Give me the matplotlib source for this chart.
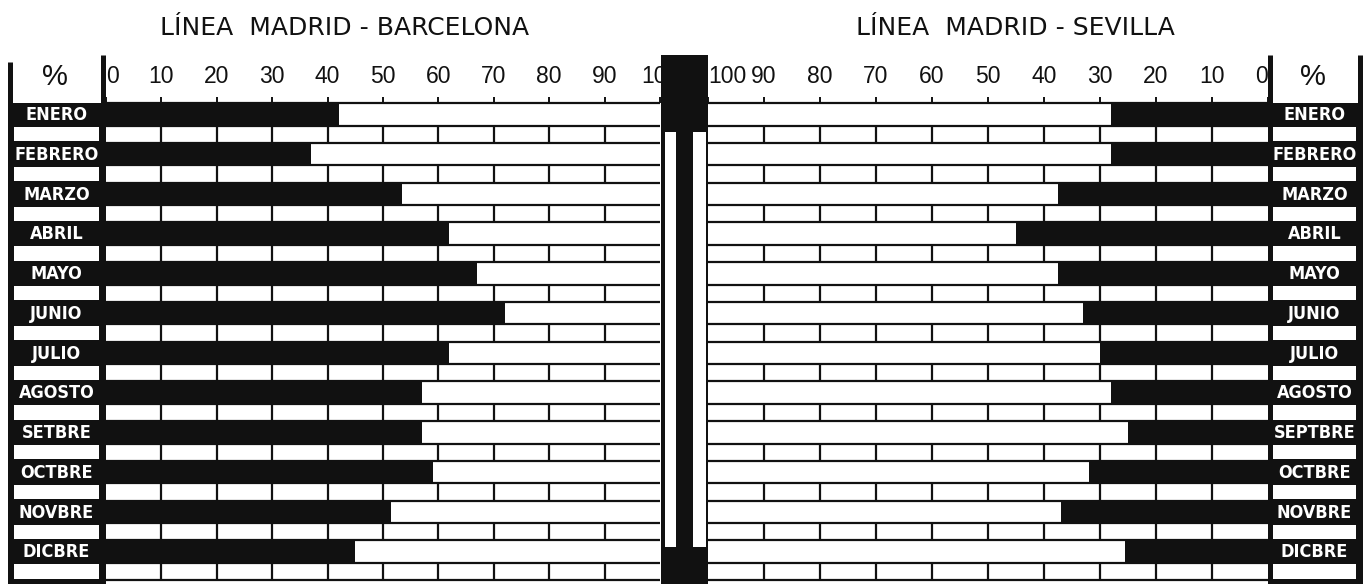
import numpy as np
import matplotlib
matplotlib.use("Agg")
import matplotlib.pyplot as plt
from matplotlib import font_manager
from matplotlib.font_manager import FontProperties
from matplotlib.patches import Rectangle

# data (% per month)
meses_bcn = ["ENERO", "FEBRERO", "MARZO", "ABRIL", "MAYO", "JUNIO",
             "JULIO", "AGOSTO", "SETBRE", "OCTBRE", "NOVBRE", "DICBRE"]
meses_sev = ["ENERO", "FEBRERO", "MARZO", "ABRIL", "MAYO", "JUNIO",
             "JULIO", "AGOSTO", "SEPTBRE", "OCTBRE", "NOVBRE", "DICBRE"]
pct_bcn = [42, 37, 53.5, 62, 67, 72, 62, 57, 57, 59, 51.5, 45]
pct_sev = [28, 28, 37.5, 45, 37.5, 33, 30, 28, 25, 32, 37, 25.5]
ticks = list(range(0, 101, 10))
titulo_bcn = "LÍNEA  MADRID - BARCELONA"
titulo_sev = "LÍNEA  MADRID - SEVILLA"

INK = "#111111"
plt.rcParams["font.family"] = ["Liberation Sans", "DejaVu Sans"]

# look for a condensed bold face for the month stamps
cond = [f for f in font_manager.fontManager.ttflist
        if ("Narrow" in f.name or "Condensed" in f.name
            or "condensed" in str(f.stretch)) and f.weight in (600, 700, "bold")]
if cond:
    month_fp = FontProperties(fname=cond[0].fname, size=13)
else:
    month_fp = FontProperties(family="DejaVu Sans", weight="bold", size=10.5)

W, H = 1365, 584
Y_TOP, Y_BOT = 103, 580
unit = (Y_BOT - Y_TOP) / 12.0
y_hi = (55 - Y_TOP) / unit
y_lo = (584 - Y_TOP) / unit
BAR = 0.57


def box(x0, y0, x1, y1):
    return [x0 / W, 1 - y1 / H, (x1 - x0) / W, (y1 - y0) / H]


fig = plt.figure(figsize=(13.65, 5.84), dpi=100)
fig.patch.set_facecolor("white")


def panel(rect, vals, xlim, line_x):
    ax = fig.add_axes(rect)
    ax.set_xlim(*xlim)
    ax.set_ylim(12, 0)
    rows = np.arange(12)
    ax.barh(rows + BAR / 2, vals, height=BAR, left=0, color=INK, zorder=2)
    ax.hlines(np.r_[rows, rows + BAR, 12], 0, 100, color=INK, lw=1.6,
              zorder=3, clip_on=False)
    for r in rows:
        ax.vlines(ticks[1:-1], r + BAR, r + 1, color=INK, lw=1.6, zorder=3)
    for s in ax.spines.values():
        s.set_visible(False)
    ax.set_yticks([])
    ax.set_xticks(ticks, labels=[str(t) for t in ticks])
    ax.tick_params(axis="x", top=True, bottom=False, labeltop=True,
                   labelbottom=False, length=4, width=1.4, color=INK,
                   pad=7, labelsize=16.5, labelcolor=INK)
    # thick zero line, running up past the scale
    ax.plot([line_x, line_x], [y_lo, y_hi], color=INK, lw=3.6,
            clip_on=False, solid_capstyle="butt", zorder=4)
    return ax


axL = panel(box(106, Y_TOP, 660, Y_BOT), pct_bcn, (0, 100), -0.5)
axR = panel(box(708, Y_TOP, 1268, Y_BOT), pct_sev, (100, 0), -0.3)

tk = axL.xaxis.get_major_ticks()
tk[0].label2.set_ha("left")
tk = axR.xaxis.get_major_ticks()
tk[0].label2.set_ha("right")
tk[-1].label2.set_ha("left")


def label_col(rect, meses, outer_x, outer_top):
    la = fig.add_axes(rect)
    la.set_facecolor(INK)
    la.set_xlim(0, 1)
    la.set_ylim(y_lo, 0)
    la.set_xticks([])
    la.set_yticks([])
    for s in la.spines.values():
        s.set_visible(False)
    for r, m in enumerate(meses):
        la.add_patch(Rectangle((0.025, r + BAR + 0.035), 0.95, 1 - BAR - 0.07,
                               fc="white", ec="none"))
        la.text(0.5, r + BAR / 2 + 0.02, m, color="white", ha="center",
                va="center", fontproperties=month_fp)
    la.plot([outer_x, outer_x], [y_lo, outer_top], color=INK, lw=3.6,
            clip_on=False, solid_capstyle="butt")
    la.text(0.48, (77 - Y_TOP) / unit, "%", ha="center", va="center",
            fontsize=21, color=INK, clip_on=False)
    return la


label_col(box(12, Y_TOP, 101, 584), meses_bcn, -0.022, (62 - Y_TOP) / unit)
label_col(box(1271, Y_TOP, 1358, 584), meses_sev, 1.023, y_hi)

# central divider
mid = fig.add_axes(box(661, 55, 708, 584))
mid.set_facecolor(INK)
mid.set_xlim(0, 1)
mid.set_ylim(y_lo, y_hi)
mid.set_xticks([])
mid.set_yticks([])
for s in mid.spines.values():
    s.set_visible(False)
s0, s1 = (132 - Y_TOP) / unit, (547 - Y_TOP) / unit
mid.add_patch(Rectangle((4 / 47, s0), 11 / 47, s1 - s0, fc="white", ec="none"))
mid.add_patch(Rectangle((32 / 47, s0), 13 / 47, s1 - s0, fc="white", ec="none"))
mid.set_zorder(5)

fig.text(345 / W, 1 - 28 / H, titulo_bcn, ha="center", va="center",
         fontsize=18, color=INK, family=["DejaVu Sans"])
fig.text(1015 / W, 1 - 28 / H, titulo_sev, ha="center", va="center",
         fontsize=18, color=INK, family=["DejaVu Sans"])

fig.savefig("out.png", dpi=100, facecolor="white")
